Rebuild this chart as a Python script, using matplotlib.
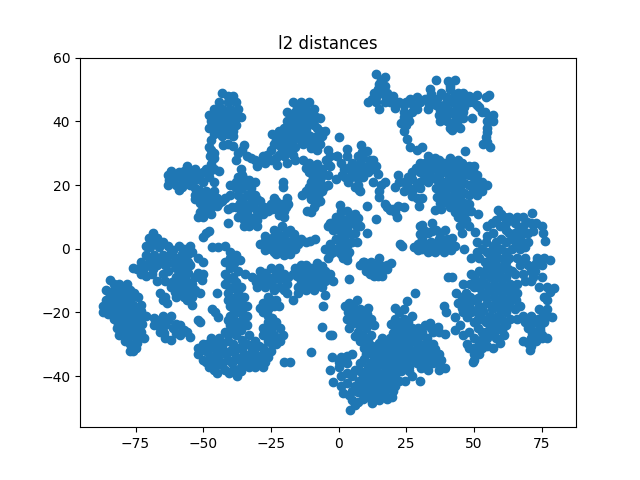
import matplotlib
matplotlib.use('Agg')
import matplotlib.pyplot as plt

# points, one list per blob
top_left = [(-43,49),(-39,48),(-44,46),(-41,46),(-38,46),(-46,44),(-43,44),(-40,44),(-37,44),
            (-48,42),(-45,42),(-42,42),(-39,42),(-36,41.5),(-47,40),(-44,40),(-41,40),(-38,39),
            (-48,38),(-45,38),(-42,37.5),(-39,37),(-46,36),(-43,35.5),(-39,35.5),(-47,34),
            (-48,32),(-46,30),(-46,28.5),(-47,26.5),(-42.5,32.7),(-39,32.4),(-41,48),(-44.5,43),
            (-41,43),(-38,41),(-46,39),(-43,39),(-40,38),(-44,37),(-41,36),(-47,31),(-47.5,29),(-41,33)]
left_band = [(-62,24.5),(-59,24),(-63,20),(-61,22),(-59,18.5),(-58,22),(-56,26),(-55,23),(-53,25),
             (-52,22),(-50,24),(-48,24),(-46,25),(-50,21),(-46,21),(-55,20),(-53,19),(-60,23),(-60,20),
             (-57,24.5),(-57,20.5),(-54,24),(-54,21),(-51,23),(-48,22.5),(-63,23),(-44,24.5),(-49,25),
             (-62.5,21.5),(-58,19.5),(-56,21.5)]
mid_left = [(-53,17),(-50,17),(-47,17),(-45,16),(-51,14.5),(-48,14.5),(-45,13.5),(-49,12),(-47,11),
            (-52,10),(-50,10),(-48,5.7),(-50,3.8),(-41,8),(-43,15),(-40,17),(-51.5,18.5),(-48.5,15.5),
            (-46,15),(-49,18),(-53,15.5),(-50,13),(-47,13),(-51,11.5),(-44,14.5),(-46,18),(-49,5),(-42,16)]
mid_blob = [(-35.6,23),(-36,25),(-40,20),(-37,20),(-34,20),(-31,21),(-37,17),(-34,17),(-31,17),(-29,15),
            (-41,12.5),(-38,13),(-35,14),(-32,14),(-29,12),(-37,10),(-34,11),(-31,10),(-28,11),
            (-35,7),(-33,7),(-30,7),(-26,12),(-35,22),(-38,19),(-35.5,19),(-32.5,19),(-35.5,16),
            (-32.5,16),(-30,15.5),(-36.5,14.5),(-39.5,13),(-33.5,12.5),(-30.5,12.5),(-36,12),(-33,9.5),
            (-30,9),(-35,9),(-27.5,13),(-38,21),(-33,21.5),(-37,22.5),(-32,8)]
small_blob = [(-25,14),(-23,12.5),(-21,14),(-19,16),(-18.5,14),(-22,10.5),(-20,10),(-24,16),(-20.5,21),(-20.5,19.5),
              (-23,15),(-20,12),(-19.5,13),(-24.5,12.5),(-21,12)]
upper_mid = [(-14,46),(-17,46),(-11,46),(-9,44),(-19,43),(-16,43),(-13,43),(-10,43),(-19,40),(-16,40),
             (-13,40),(-10,40),(-7,41),(-8,38),(-5,37),(-18,37),(-15,37),(-12,37),(-6,35.5),
             (-24.6,36),(-22,37),(-20,34),(-17,34),(-14,34),(-23,34),(-21,31),(-18,31),(-11,34),(-9,33),
             (-8,31),(-35,32.7),(-37,30),(-34,29),(-31,28),(-30,26),(-27,27),(-28,29),(-25,28),(-25,31),
             (-22.7,26.4),(-19,27),(-16,28),(-38,28),(-23,28.5),(-15.5,44.5),(-12.5,44.5),(-17.5,41.5),(-14.5,41.5),
             (-11.5,41.5),(-8.5,41.5),(-17.5,38.5),(-14.5,38.5),(-11.5,38.5),(-9,39),(-7,37),(-20,38),(-16.5,35.5),
             (-13.5,35.5),(-10.5,35.5),(-8,35.5),(-21.5,35.5),(-19,35.5),(-24,33),(-22,32.5),(-19,32.5),(-16,32),
             (-7,33),(-10,31.5),(-20,29),(-17,29.5),(-35.5,31),(-32.5,28.5),(-26.5,29.5),(-29,27.5),(-22,29.5),(-13,33)]
right_of_upper = [(-13,28),(-11,27),(-8,26.5),(-11,24),(-8,24),(-6,25),(-10,21),(-7,21),(-4,20),(-9,18),
                  (-6,18),(-12,18),(-13.5,17),(-10,15.5),(-7,15),(-9,13),(-11.7,12),(-10,11.5),
                  (-4,31),(-3,26),(-4,23),(-0.6,29),(0,35),(-1,22),(-9.5,25.5),(-12,25.5),(-9.5,22.5),
                  (-6.5,22.5),(-8.5,19.5),(-5.5,19.5),(-11,19.5),(-10.5,17),(-7.5,16.5),(-4,26.5),(-3,29),(-8.5,14.5),(-4.5,28)]
h_blob = [(-27,4),(-24,6),(-21,7),(-18,6),(-29,1.5),(-26,2),(-23,3),(-20,3),(-17,3),(-14,3),(-25,0),
          (-22,0),(-19,0),(-16,0),(-27,-0.5),(-20,-2),(-24,-1),(-8.7,3),(-10.5,2.5),(-5,0),(-2,-1),(-4,-3),(-1,3),
          (-22.5,4.5),(-19.5,5),(-16.5,4.5),(-24.5,3.5),(-27,2.5),(-24,1.5),(-21,1.5),(-18,1.5),(-15,1.5),(-23,-1.5),(-18,-1.5),
          (-12,2),(-3,1.5),(-3,-1.5)]
far_left = [(-84.5,-9.7),(-81,-11),(-78,-11),(-86,-13),(-83,-13),(-80,-13),(-77,-13),(-86,-16),(-83,-16),
            (-80,-16),(-77,-16),(-74,-15),(-87,-18),(-84,-19),(-81,-19),(-78,-19),(-75,-19),(-87,-20),
            (-83,-22),(-80,-22),(-77,-22),(-74,-22),(-71,-21),(-80,-25),(-77,-25),(-74,-25),
            (-81,-27),(-78,-28),(-75,-28),(-73,-26),(-77,-30),(-75,-31),(-76,-32),(-83,-11),(-84.5,-14.5),(-81.5,-14.5),
            (-78.5,-14.5),(-75.5,-14),(-85,-17.5),(-82,-17.5),(-79,-17.5),(-76,-17.5),(-73,-17.5),(-85,-20.5),(-82,-20.5),
            (-79,-20.5),(-76,-20.5),(-73,-19.5),(-81.5,-23.5),(-78.5,-23.5),(-75.5,-23.5),(-72.5,-23.5),(-82,-25),(-78.5,-26.5),
            (-75.5,-26.5),(-79,-29),(-74.5,-29.5),(-77,-32),(-72,-28)]
diag_band = [(-68.5,5),(-71,1),(-68,2),(-65,2),(-63,1),(-71,-2),(-68,-2),(-65,-2),(-73,-4),(-70,-5),(-67,-5),
             (-76,-6),(-62,-1),(-59,1),(-57,0),(-55,1),(-60,-3),(-57,-3),(-54,-1),(-52,-3),(-50,-4),
             (-64,-5),(-60,-6),(-57,-6),(-55,-5),(-65,-8),(-60,-9),(-57,-9),(-53,-9),(-50.5,-9.7),(-50,-8),
             (-73,-8),(-69,-8),(-62,-12),(-59,-12),(-56,-12),(-53,-13),(-51,-14),(-60,-15),(-57,-15),(-54,-15),
             (-54,-17.6),(-56,-16),(-66,-14),(-64,-15),(-63.5,-17),(-46.7,0.6),(-44.5,0.6),(-42,1),(-70,3.5),(-67,3.5),
             (-69.5,0.5),(-66.5,0.5),(-69.5,-3.5),(-66.5,-3.5),(-72,-6),(-68.5,-6.5),(-74.5,-6.5),(-71,-8.5),(-63.5,-2.5),
             (-61,-0.5),(-58,-1.5),(-55.5,-1.5),(-58.5,-4.5),(-55.5,-4),(-61,-4.5),(-63,-7),(-58.5,-7.5),(-55.5,-7.5),
             (-52,-7.5),(-61.5,-10.5),(-58.5,-10.5),(-55.5,-10.5),(-58,-13.5),(-55,-13.5),(-60.5,-13.5),(-54,-11),(-64,-10),
             (-67,-10),(-65,-16)]
lower_left = [(-68,-21.7),(-65,-21),(-62,-21),(-68,-24),(-64,-24),(-61,-25),(-58.5,-24),(-66,-26),(-64,-28),
              (-62,-28.5),(-58.5,-27),(-56,-26),(-55,-27.7),(-46.7,-19),(-44.5,-21.5),(-45.5,-20),(-45,-14),
              (-51,-23),(-52,-22.5),(-66,-22.5),(-63,-22.5),(-66,-24.5),(-64.5,-26.5),(-60,-23.5),(-57,-25.5),(-60,-26.5)]
vertical = [(-36.4,-3.5),(-40,-1),(-38,-2),(-42,-4),(-40,-6),(-37,-7),(-42,-8),(-39,-9),(-42,-11),(-39,-12),
            (-36,-12),(-41,-14),(-38,-15),(-35,-15),(-40,-18),(-37,-18),(-34,-18),(-40,-21),(-37,-20),
            (-34,-21),(-40,-24),(-37,-24),(-34,-24),(-42,-26),(-38,-27),(-33,-27),(-40,-3),(-38.5,-4.5),(-41,-9.5),
            (-38,-10.5),(-40,-12.5),(-37,-13.5),(-39,-16.5),(-36,-16.5),(-38.5,-19.5),(-35.5,-19.5),(-38.5,-22.5),
            (-35.5,-22.5),(-41,-22.5),(-39,-25.5),(-36,-25.5),(-41,-16)]
bottom_left = [(-37.5,-40),(-38,-38),(-52,-33),(-50,-30),(-47,-28),(-44,-28),(-41,-29),(-49,-32),(-46,-31),
               (-43,-31),(-40,-32),(-37,-31),(-34,-30),(-31,-29),(-28,-27),(-25,-26),(-23,-23),(-26,-23),
               (-28,-25),(-20.5,-27),(-23,-28),(-26,-29),(-23,-30),(-28,-31),(-32,-32),(-35,-33),(-38,-34),
               (-41,-35),(-44,-35),(-47,-35),(-50,-35),(-48,-37),(-46,-38),(-42,-38),(-39,-38),(-35,-36),(-32,-35),
               (-29,-34),(-26,-34),(-31,-37),(-28,-37),(-28,-33),(-25,-32),(-18,-35.5),(-20,-35.5),(-10,-32.5),
               (-6,-24.5),(-3,-27),(-41,-27),(-45,-39),(-48.5,-30),(-45.5,-29.5),(-42.5,-29.5),(-39,-30),(-35.5,-28.5),
               (-32.5,-30.5),(-29.5,-30.5),(-26.5,-27),(-24,-27),(-24.5,-24.5),(-21.5,-25),(-21.5,-29),(-47.5,-33.5),
               (-44.5,-33),(-41.5,-33),(-38.5,-32.5),(-35.5,-31.5),(-31,-33),(-27,-32),(-24.5,-30),(-49,-35.5),
               (-45.5,-36.5),(-43,-36.5),(-39.5,-36),(-36.5,-35),(-33.5,-34),(-30,-35.5),(-27,-35.5),(-33,-37),
               (-40.5,-39),(-36,-38.5),(-36,-37),(-52,-31)]
mid_band = [(-34.5,-8),(-32,-9),(-29,-9),(-26,-9),(-23,-8),(-20,-8),(-17,-8),(-14,-7),(-11,-7),(-8,-7),(-5,-7),(-3,-8),
            (-30,-12),(-27,-12),(-29,-7),(-25,-6),(-22,-6),(-19,-11),(-14,-10),(-11,-10),(-8,-10),(-5,-10),(-2,-10),
            (-16,-6),(-12,-5),(-8,-4.5),(-12,-13),(-9,-13),(-6,-12),(-5,-14.5),(-5.7,-18),(-17,-16),(-19,-14),
            (-20,-13),(-15,-14),(-24,-13),(-26,-15),(-25,-16),(-28,-17),(-26,-19),(-28,-20),(-24.5,-21.7),(-22,-18),(-23,-16),
            (-30.5,-10.5),(-27.5,-10.5),(-24.5,-10),(-21.5,-9.5),(-18.5,-9),(-15.5,-8.5),(-12.5,-8.5),(-9.5,-8.5),(-6.5,-8.5),
            (-3.5,-9.5),(-12.5,-11.5),(-9.5,-11.5),(-6.5,-11),(-15,-12),(-10,-6),(-6,-5.5),(-14,-5),(-27,-7.5),(-23,-7),
            (-25,-11),(-22,-12),(-29,-18.5),(-26.5,-17.5),(-24,-18),(-26,-21)]
top_center = [(14,54.7),(17,54),(15,51.6),(17,51),(13,49),(16,49),(18,49),(20,48),(11,46),(14,46),(17,46),(15,44),
              (21,44.3),(24,45),(26.4,47),(29,47.5),(24,43),(27,43),(29,44),(24,41.5),(26,40),(24,37),(25,38.7),
              (15.5,53),(14.5,50),(14,47.5),(17.5,47.5),(12.5,47),(22.5,46),(25,46),(27.5,45),(30,46),(25.5,42),(23,39.5),(19,46)]
top_right = [(33.8,50),(36,53),(40.4,52.5),(43,53),(32,47),(35,47),(38,49),(41,50),(44,49),(46,49),(48,48),(51,48.4),
             (55.6,48.4),(54.5,47.5),(33,44),(36,45),(39,45),(42,46),(45,46),(48,46),(51,45),(53,43),(37,42),(40,42),(43,42),
             (46,43),(37.5,40),(40,40),(43,40),(46,41),(42,37.4),(45,38),(49.4,41),(54,43),(57,42),(57,40),(55,40),
             (55,38),(54.5,35),(56,32),(53.5,33),(34,48.5),(39.5,47.5),(42.5,48),(45.5,47.5),(48.5,47.5),(36.5,47),
             (33.5,45.5),(37.5,43.5),(40.5,43.5),(43.5,44),(46.5,44.5),(49.5,46),(52,44.5),(42,39),(44,40.5),(41,38),
             (39,41),(56,41),(55,36.5),(55,33.5),(41,51)]
right_mid = [(25.4,34.3),(26.4,32),(29,31),(31,32),(33,29),(46.7,30.8),(30,27),(34,27),(37,28),(41,28.5),(44,28),(48,26),
             (50,26),(27,24),(30,24),(33,24),(36,25),(39,25),(42,25),(45,25),(48,23),(51,23),(53,21),(55,20),
             (33,21),(36,22),(39,21),(42,22),(45,22),(48,20),(51,19.5),(53,18),(36,19),(39,18),(42,19),(45,19),(48,17),(51,17),
             (36.4,16.4),(39,15),(42,16),(45,16),(48,14),(35.6,12.3),(38,12.5),(41,13),(44,13),(47,11.5),(49,12),(51.5,11),
             (44,10),(46,8),(48,7),(45.6,5),(50.4,5.3),(46.4,0),(32,27),(35.5,28.5),(39,27),(42.5,26.5),(45.5,27),(47,25),
             (28.5,25.5),(31.5,25.5),(34.5,25.5),(37.5,26.5),(40.5,26.5),(43.5,23.5),(46.5,23.5),(49.5,24.5),(37.5,23.5),
             (40.5,23.5),(34.5,22.5),(31.5,22),(50,21),(46.5,20.5),(43.5,20.5),(40.5,20),(37.5,20),(52,20),(49.5,18.5),
             (46.5,17.5),(43.5,17.5),(40.5,16.5),(37.5,17),(46.5,14.5),(43.5,14.5),(40.5,14.5),(37.5,14.5),(47,12.5),
             (43,11.5),(46,11),(45,7),(47,9)]
left_branch = [(12.8,21),(17,20.8),(15,18),(15,16.4),(17,14),(19,12.3),(21.5,10),(24,13),(29.7,13.5),(22,13.5),(18,13),
               (22,23),(21,19.5),(24,21),(27,22),(30,21),(27,18),(24,18),(29,16),(31,16),(30,19),(10.4,13.3),(14,9.4),(10.5,5),
               (25.5,19.5),(28.5,19.5),(22.5,21),(25.5,22.5),(27,16.5),(15.5,20),(20,12.5),(21,11.5)]
upper_center = [(3,31.4),(8.4,32.7),(7,29),(10.5,30.6),(12.8,28),(5,27),(8,27),(11,26),(14,26),(-0.6,29),(3,29),
                (2,25),(5,24),(8,24),(11,24),(14.7,23.6),(1.3,23),(4,22),(7,22),(3.6,20.8),(8,18),(6,19.5),
                (8.5,30.5),(9,28.5),(11.5,28),(6.5,25.5),(3.5,25.5),(9.5,25),(12.5,25),(6.5,23),(2.5,22.5),(9,22.5),(7,20),(9,23.5),
                (1,27),(7.5,18.5)]
center_down = [(0.5,13.8),(-3,8),(3,12),(6,11),(7,9.8),(-1,10),(2,9),(5,8),(8,7),(-4,7),(0,6),(3,6),(6,5),(-1,3),(2,3),
               (5,2),(6.8,2.2),(-1,0),(2,0),(4,-1),(1.8,-3),(0,-1),(3,-2),(3.9,-9.4),(1,12),(4.5,10.5),(0.5,10),(3.5,9),(0.5,7.5),
               (3.5,7.5),(6.5,7.5),(1.5,4.5),(4.5,4.5),(0.5,2),(3.5,1.5),(1,-1.5),(-2,6),(-2.5,8),(1.5,1),(3,-3.5)]
small_center = [(15,-3),(9,-4),(12,-4),(15,-5),(18,-5),(19.5,-4.5),(8,-5),(10,-7),(13,-7),(16,-7),(18,-6.5),(13,-8.5),(16,-8.5),
                (10.5,-5.5),(13.5,-5.5),(16.5,-5.5),(11.5,-8),(14.5,-8.5),(9.5,-4)]
center_right = [(30,7),(34.5,8),(39.4,6),(36,6),(33,5),(37,3),(40,3),(42,3.5),(28,0.7),(22.7,1.5),(23.5,1),(31,3),(34,2),(31,0),
                (34,0),(37,0),(40,0),(43,1),(33,-1),(39,-1),(32,5.5),(34.5,5.5),(37.5,5),(32.5,1.5),(35.5,1.5),(38.5,1.5),
                (41.5,1.5),(29.5,1.5),(29.5,-0.5),(35.5,-1),(30,4.5),(36,-0.5),(41.5,-0.5),(31,7.5)]
right_top = [(55,7),(59,12.3),(58,9),(61,10),(63,10),(65,8),(68,10),(71.5,11.3),(68,7),(65,5),(71,8),(75.6,5),(76.4,2.5),
             (73,8),(62,6),(60,3),(55,4),(51,2),(53,0),(57,1),(60,0),(64,3),(67,3),(70,5),(67,1.3),(67,0),(64,0),(70,2),(62,-1),
             (49,-3),(52,-3),(56,-2),(59,-3),(60,11),(56.5,8),(59.5,7),(62,8),(66,10),(69.5,8.5),(66.5,6.5),(63,5),(57,5),
             (68.5,5),(72,5.5),(65.5,1.5),(62,2),(58,2),(54.5,2),(55,-1),(58,-1),(61,-3),(54,-4),(57,-4),(51,-1),(67.5,2.5),
             (69,0.5),(75,7)]
right_main = [(43,-21.4),(43.4,-14),(46,-11),(49,-8),(52,-7),(55,-6),(58,-5),(61,-5),(64,-7),(47,-14),(50,-12),(53,-10),(56,-9),
              (59,-9),(62,-9),(65,-8),(44,-17),(47,-17),(50,-16),(53,-14),(56,-13),(59,-13),(62,-13),(46,-20),(49,-20),(52,-18),
              (55,-17),(58,-17),(61,-17),(50,-23),(53,-22),(56,-21),(59,-21),(62,-20),(53,-26),(56,-25),(59,-25),(62,-24),(55,-28),(58,-28),
              (61,-27),(50,-28),(46,-27),(43,-25.5),(47.4,-30),(50,-31),(53,-31),(59.7,-29.6),(57,-31),(52,-33),(50,-35),(49.7,-35.6),
              (48,-31),(40.4,-9),(42,-9),(39,-18),(39.5,-20),(65,-19),(68,-21),(71,-21),(66,-14),(69,-3),(73.3,-3),(78,-3.5),(75,-5),
              (71,-7),(75,-9),(79.4,-12.3),(77,-12),(74,-12),(72,-9),(76,-15),(74,-19),(77,-19),(79,-21.4),(76,-23),(72,-23),(70,-25),
              (73,-26),(75,-27),(77,-28),(71,-28),(68,-29),(70.7,-31.8),(70,-29.5),(73,-29),(69,-10),(66,-3),(63,-3),
              (50.5,-9.5),(53.5,-8),(56.5,-7),(59.5,-7),(62.5,-6.5),(48.5,-11),(51.5,-12),(54.5,-11.5),(57.5,-11),(60.5,-11),
              (63.5,-11),(45.5,-15),(48.5,-15),(51.5,-15.5),(54.5,-15),(57.5,-15),(60.5,-15),(63.5,-15),(45.5,-18.5),(48.5,-18.5),
              (51,-20),(53.5,-19.5),(56.5,-19),(59.5,-19),(62.5,-18),(47.5,-21.5),(51.5,-22),(54.5,-23),(57.5,-23),(60.5,-22.5),
              (63.5,-22),(51.5,-25),(54.5,-26),(57.5,-26.5),(60.5,-25.5),(52.5,-28.5),(48,-26),(45,-24),(50,-33),(52,-30),(55,-30.5),
              (62,-4),(64,-13),(63,-17),(65.5,-16),(67,-18),(66,-22),(69,-23),(71,-24),(73.5,-22),(75.5,-20.5),(77.5,-21),(74.5,-24.5),
              (71.5,-26.5),(74.5,-25.5),(77,-16),(78,-13.5),(72.5,-7),(70,-5),(73,-4.5),(76,-3),(67,-5),(68,-8),(71,-10),(66,-11),
              (75,-28),(71,-30.5)]
bottom_right = [(6.8,-16),(4,-17),(2.4,-18),(5,-20),(8,-19),(11,-18.6),(3,-22),(6,-23),(9,-22),(12,-22),(4,-25),(7,-26),(10,-25),
                (13,-24),(21,-18.6),(24,-19),(25.4,-16.4),(28.3,-14),(21,-22),(24,-22),(27,-21),(21,-25),(24,-25),(27,-25),(16,-28),
                (19,-28),(22,-28),(25,-28),(28,-27),(31,-26),(33.8,-23.3),(36.8,-24.5),(32,-24),(35,-26),(39.4,-26.7),(8,-29),(11,-29),
                (14,-31),(17,-31),(20,-31),(23,-31),(26,-31),(29,-30),(32,-30),(35,-30),(10,-33),(13,-34),(16,-34),(19,-34),(22,-34),(25,-34),
                (28,-33),(31,-33),(34,-33),(37,-33),(8,-36),(11,-37),(14,-37),(17,-37),(20,-37),(23,-37),(26,-37),(29,-36),(32,-36),(35,-36),
                (38,-35),(39.4,-37.4),(37,-38),(33,-38),(-2.4,-34),(1,-34),(5,-33),(3,-36),(6,-38),(0,-37),(-3,-38),(-2,-41.8),(1,-40),(9,-40),
                (12,-40),(15,-40),(18,-40),(21,-40),(24.6,-41.5),(30,-41.5),(27,-40),(3,-42),(6,-43),(9,-43),(12,-43),(15,-43),(18,-43),(21,-43),
                (1.7,-45.4),(4,-46),(7,-45),(10,-46),(13,-46),(16,-46),(19.8,-46.5),(18,-47),(12.4,-48.4),(7,-48),(4.2,-50.6),(6,-49),(-2.4,-27),
                (5.5,-18),(3.5,-20),(8,-20.5),(6,-21.5),(10.5,-20.5),(4.5,-23.5),(7.5,-24),(10.5,-23.5),(6,-27.5),(9,-27.5),(12,-27),(22.5,-20),
                (22.5,-23.5),(25.5,-23),(19.5,-23.5),(20,-26.5),(23,-26.5),(26,-26.5),(29.5,-25),(34,-25),(37,-26),(17.5,-29.5),(20.5,-29.5),
                (23.5,-29.5),(26.5,-29),(29.5,-28),(32.5,-28),(15,-29.5),(12.5,-30.5),(9.5,-31),(11.5,-32.5),(14.5,-32.5),(17.5,-32.5),(20.5,-32.5),
                (23.5,-32.5),(26.5,-32.5),(29.5,-31.5),(32.5,-31.5),(35.5,-31.5),(9.5,-34.5),(12.5,-35.5),(15.5,-35.5),(18.5,-35.5),(21.5,-35.5),
                (24.5,-35.5),(27.5,-34.5),(30.5,-34.5),(33.5,-34.5),(36.5,-35),(38,-37),(30.5,-37.5),(8,-38.5),(11,-38.5),(14,-38.5),(17,-38.5),
                (20,-38.5),(23,-38.5),(26,-38.5),(3,-39),(5,-40),(7.5,-41.5),(10.5,-41.5),(13.5,-41.5),(16.5,-41.5),(19.5,-41.5),(22.5,-41.5),
                (5,-44.5),(8,-44.5),(11,-44.5),(14,-44.5),(17,-44.5),(20,-44.5),(9,-47),(12,-47),(15,-47.5),(5,-47.5),(1,-43),(3,-33.5),(0,-35.5)]

blobs = [top_left, left_band, mid_left, mid_blob, small_blob, upper_mid, right_of_upper, h_blob,
         far_left, diag_band, lower_left, vertical, bottom_left, mid_band, top_center, top_right,
         right_mid, left_branch, upper_center, center_down, small_center, center_right, right_top,
         right_main, bottom_right]

x = [p[0] for b in blobs for p in b]
y = [p[1] for b in blobs for p in b]

fig, ax = plt.subplots()
ax.scatter(x, y)
ax.set_title('l2 distances')
ax.set_xlim(-95.5, 87.7)
ax.set_ylim(-56, 60)
fig.savefig('out.png')
